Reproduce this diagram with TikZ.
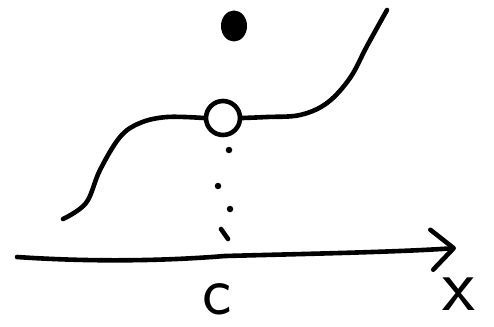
\documentclass[tikz,border=0pt]{standalone}
\usepackage{fontspec}
\usetikzlibrary{arrows.meta,positioning,shapes.geometric}
\tikzset{
  pen/.style={line width=4.6pt, line cap=round, line join=round},
  axisarr/.style={pen, -{Straight Barb[length=22pt,width=40pt,line width=4.6pt,round]}},
  holept/.style={circle, draw, line width=4.6pt, minimum size=34pt, inner sep=0pt},
  filledpt/.style={ellipse, fill, minimum width=26pt, minimum height=31pt, inner sep=0pt},
  dotpt/.style={circle, fill, minimum size=6.5pt, inner sep=0pt},
  lbl/.style={inner sep=0pt, font=\fontsize{70}{70}\selectfont\sffamily}
}
\begin{document}
\begin{tikzpicture}[x=1pt, y=-1pt]
\useasboundingbox (0,0) rectangle (494,326);
% axis
\coordinate (xstart) at (17,257);
\coordinate (xend) at (456,248);
\draw[axisarr] (xstart) .. controls (120,264) and (200,258) .. (225,256) .. controls (300,254) and (400,252) .. (xend);
\node[lbl] (cl) at (217,299) {c};
\node[lbl, font=\fontsize{76}{76}\selectfont\sffamily] (xl) at (459,294) {x};
% limit point and value
\node[holept] (hole) at (223,118) {};
\node[filledpt] (val) at (234,26) {};
% the curve
\draw[pen] plot[smooth, tension=0.6] coordinates {(63,219) (86,203) (100,170) (120,137) (140,123) (167,117) (hole.west)};
\draw[pen] plot[smooth, tension=0.6] coordinates {(hole.east) (267,117) (300,115) (327,103) (350,78) (367,46) (387,10)};
% dotted drop
\node[dotpt] (d1) at (229,150) {};
\node[dotpt] (d2) at (218,186) {};
\node[dotpt] (d3) at (230,209) {};
\draw[pen] (221,229) -- (228,239);
\end{tikzpicture}
\end{document}
